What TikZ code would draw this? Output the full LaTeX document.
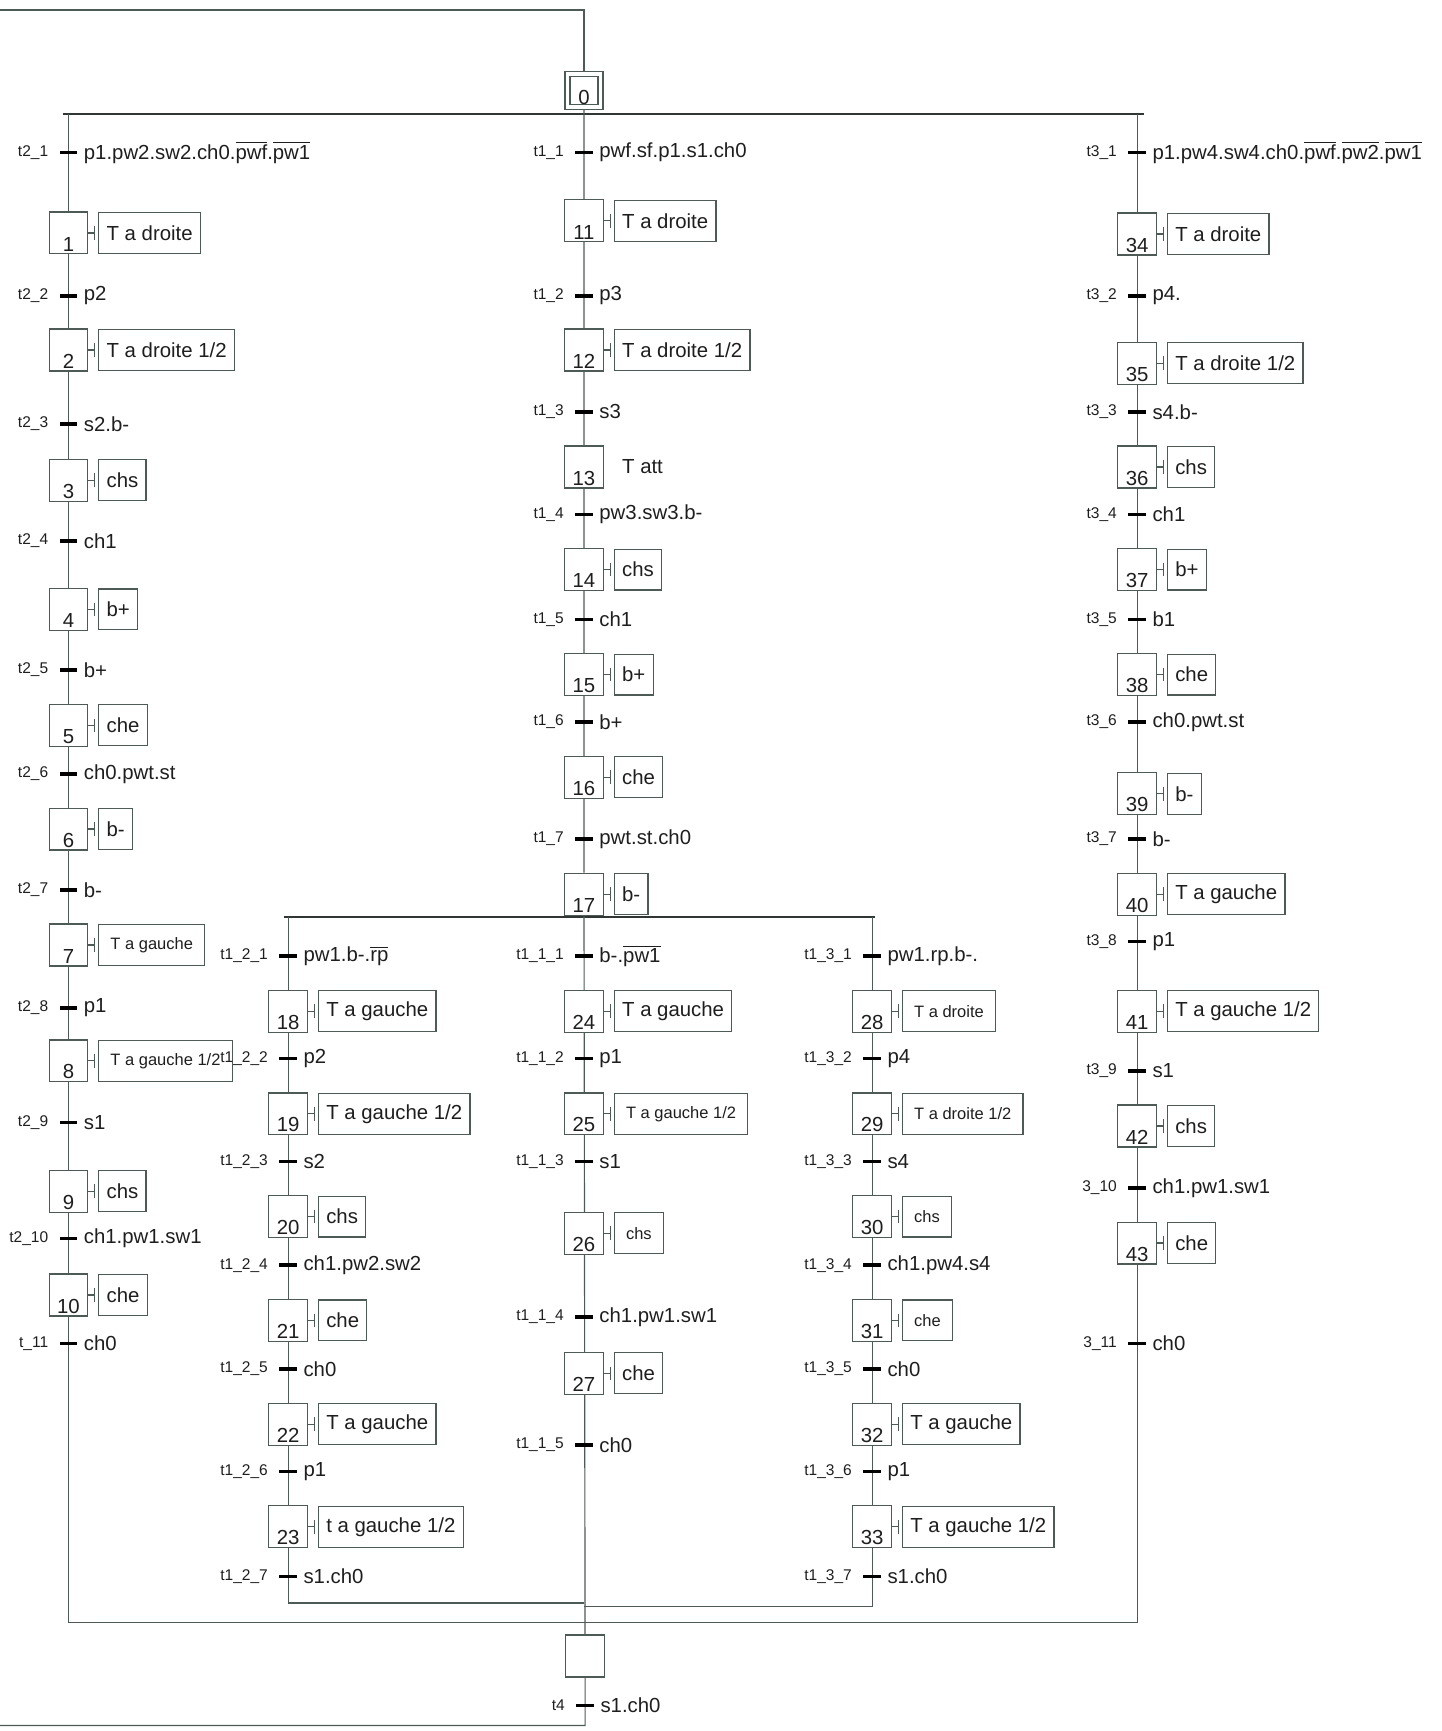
\documentclass[tikz,border=0pt]{standalone}
\usepackage{fontspec}
\setmainfont{Liberation Sans}
\usepackage{tikz}
\usetikzlibrary{arrows.meta, positioning, backgrounds}
\definecolor{trait}{RGB}{78,90,86}
\definecolor{encre}{RGB}{30,30,30}
\newcommand{\actfont}{\fontsize{10.5}{12}\selectfont}
\newcommand{\petitefont}{\fontsize{8.5}{10}\selectfont}
\newcommand{\numfont}{\fontsize{10.5}{12}\selectfont}
\newcommand{\tfont}{\fontsize{8}{9}\selectfont}
\newcommand{\barre}[1]{$\overline{\mbox{#1}}$}

\begin{document}
\begin{tikzpicture}[x=0.02cm, y=-0.02cm,
  every node/.style={text=encre},
  lien/.style={draw=trait, line width=0.6pt},
  bus/.style={draw=trait!60!black, line width=1pt},
  etape/.style={draw=trait, fill=white, line width=0.6pt, minimum width=0.7cm,
    minimum height=0.76cm, inner sep=0pt,
    label={[font=\numfont, anchor=south, inner sep=1.5pt]south:#1}},
  etape0/.style={etape=#1, double=white, double distance=2pt,
    minimum width=0.6cm, minimum height=0.6cm},
  action/.style={draw=trait, fill=white, line width=0.6pt, minimum height=0.74cm,
    inner xsep=4pt, font=\actfont},
  petite/.style={action, font=\petitefont, inner xsep=6pt},
  nue/.style={action, draw=none},
  vers action/.style={lien, -{Bar[width=7pt, line width=0.7pt]}, shorten >=1.5pt},
  vers petite/.style={vers action},
  vers nue/.style={draw=none},
  trans/.style={fill=black, minimum width=0.32cm, minimum height=1.8pt, inner sep=0pt},
  tnom/.style={font=\tfont, inner xsep=5.5pt, inner ysep=1pt},
  recept/.style={font=\actfont, inner xsep=3pt, inner ysep=1pt}
]
\useasboundingbox (0,0) rectangle (1306,1568);

% etapes initiale et finale
\node[etape0=0] (s0) at (529,82) {};
\node[etape=] (sf) at (530,1500) {};

% etapes : numero / x / y / action / style
\foreach \n/\x/\y/\act/\sty in {
  1/62/211/{T a droite}/action, 2/62/317/{T a droite 1/2}/action,
  3/62/435/chs/action, 4/62/552/b+/action, 5/62/657/che/action,
  6/62/751/b-/action, 7/62/856/{T a gauche}/petite,
  8/62/961/{T a gauche 1/2}/petite, 9/62/1079/chs/action, 10/62/1173/che/action,
  11/529/200/{T a droite}/action, 12/529/317/{T a droite 1/2}/action,
  13/529/423/{T att}/nue, 14/529/516/chs/action, 15/529/611/b+/action,
  16/529/704/che/action, 17/529/810/b-/action,
  18/261/916/{T a gauche}/action, 19/261/1009/{T a gauche 1/2}/action,
  20/261/1102/chs/action, 21/261/1196/che/action,
  22/261/1290/{T a gauche}/action, 23/261/1383/{t a gauche 1/2}/action,
  24/529/916/{T a gauche}/action, 25/529/1009/{T a gauche 1/2}/petite,
  26/529/1117/chs/petite, 27/529/1244/che/action,
  28/790/916/{T a droite}/petite, 29/790/1009/{T a droite 1/2}/petite,
  30/790/1102/chs/petite, 31/790/1196/che/petite,
  32/790/1290/{T a gauche}/action, 33/790/1383/{T a gauche 1/2}/action,
  34/1030/212/{T a droite}/action, 35/1030/329/{T a droite 1/2}/action,
  36/1030/423/chs/action, 37/1030/516/b+/action, 38/1030/611/che/action,
  39/1030/719/b-/action, 40/1030/810/{T a gauche}/action,
  41/1030/916/{T a gauche 1/2}/action, 42/1030/1020/chs/action,
  43/1030/1126/che/action}
{
  \node[etape=\n] (s\n) at (\x,\y) {};
  \node[\sty, right=0.18cm of s\n] (a\n) {\act};
  \draw[vers \sty] (s\n) -- (a\n);
}

% transitions : nom / x / y / repere / receptivite
\foreach \nom/\x/\y/\lab/\cond in {
  g1/62/138/t2\_1/{p1.pw2.sw2.ch0.\barre{pwf}.\barre{pw1}},
  g2/62/268/t2\_2/p2, g3/62/384/t2\_3/s2.b-, g4/62/490/t2\_4/ch1,
  g5/62/607/t2\_5/b+, g6/62/701/t2\_6/ch0.pwt.st, g7/62/806/t2\_7/b-,
  g8/62/913/t2\_8/p1, g9/62/1017/t2\_9/s1, g10/62/1122/t2\_10/ch1.pw1.sw1,
  g11/62/1217/t\_11/ch0,
  m1/529/138/t1\_1/pwf.sf.p1.s1.ch0, m2/529/268/t1\_2/p3, m3/529/373/t1\_3/s3,
  m4/529/466/t1\_4/pw3.sw3.b-, m5/529/561/t1\_5/ch1, m6/529/654/t1\_6/b+,
  m7/529/760/t1\_7/pwt.st.ch0,
  a1/261/866/t1\_2\_1/{pw1.b-.\barre{rp}}, a2/261/959/t1\_2\_2/p2,
  a3/261/1052/t1\_2\_3/s2, a4/261/1146/t1\_2\_4/ch1.pw2.sw2,
  a5/261/1240/t1\_2\_5/ch0, a6/261/1333/t1\_2\_6/p1, a7/261/1428/t1\_2\_7/s1.ch0,
  b1/529/866/t1\_1\_1/{b-.\barre{pw1}}, b2/529/959/t1\_1\_2/p1,
  b3/529/1052/t1\_1\_3/s1, b4/529/1193/t1\_1\_4/ch1.pw1.sw1,
  b5/529/1309/t1\_1\_5/ch0,
  c1/790/866/t1\_3\_1/pw1.rp.b-., c2/790/959/t1\_3\_2/p4,
  c3/790/1052/t1\_3\_3/s4, c4/790/1146/t1\_3\_4/ch1.pw4.s4,
  c5/790/1240/t1\_3\_5/ch0, c6/790/1333/t1\_3\_6/p1, c7/790/1428/t1\_3\_7/s1.ch0,
  d1/1030/138/t3\_1/{p1.pw4.sw4.ch0.\barre{pwf}.\barre{pw2}.\barre{pw1}},
  d2/1030/268/t3\_2/p4., d3/1030/373/t3\_3/s4.b-, d4/1030/466/t3\_4/ch1,
  d5/1030/561/t3\_5/b1, d6/1030/654/t3\_6/ch0.pwt.st, d7/1030/760/t3\_7/b-,
  d8/1030/853/t3\_8/p1, d9/1030/970/t3\_9/s1, d10/1030/1076/3\_10/ch1.pw1.sw1,
  d11/1030/1217/3\_11/ch0,
  f1/530/1545/t4/s1.ch0}
  \node[trans, label={[tnom]left:\lab}, label={[recept]right:\cond}] (\nom) at (\x,\y) {};

% points de raccordement
\coordinate (haut-g) at (0,9);
\coordinate (haut-d) at (529,9);
\coordinate (bus-g) at (57,103);
\coordinate (bus-d) at (1036,103);
\coordinate (g-haut) at (62,103);
\coordinate (g-bas) at (62,1470);
\coordinate (d-haut) at (1030,103);
\coordinate (d-bas) at (1030,1470);
\coordinate (sb-g) at (257,831);
\coordinate (sb-d) at (793,831);
\coordinate (a-haut) at (261,831);
\coordinate (a-bas) at (261,1452);
\coordinate (a-fin) at (529,1452);
\coordinate (c-haut) at (790,831);
\coordinate (c-bas) at (790,1455);
\coordinate (c-fin) at (529,1455);
\coordinate (bas-m) at (530,1563);
\coordinate (bas-g) at (0,1563);

\begin{scope}[on background layer]
  \draw[lien] (haut-g) -- (haut-d) -- (s0);
  \draw[bus] (bus-g) -- (bus-d);
  \draw[bus] (sb-g) -- (sb-d);
  \draw[lien] (s0) -- (s17) -- (sf) -- (bas-m) -- (bas-g);
  \draw[lien] (g-haut) -- (s1) -- (s10) -- (g-bas) -- (d-bas);
  \draw[lien] (d-haut) -- (s34) -- (s43) -- (d-bas);
  \draw[lien] (a-haut) -- (s18) -- (s23) -- (a-bas) -- (a-fin);
  \draw[lien] (c-haut) -- (s28) -- (s33) -- (c-bas) -- (c-fin);
\end{scope}
\end{tikzpicture}
\end{document}
